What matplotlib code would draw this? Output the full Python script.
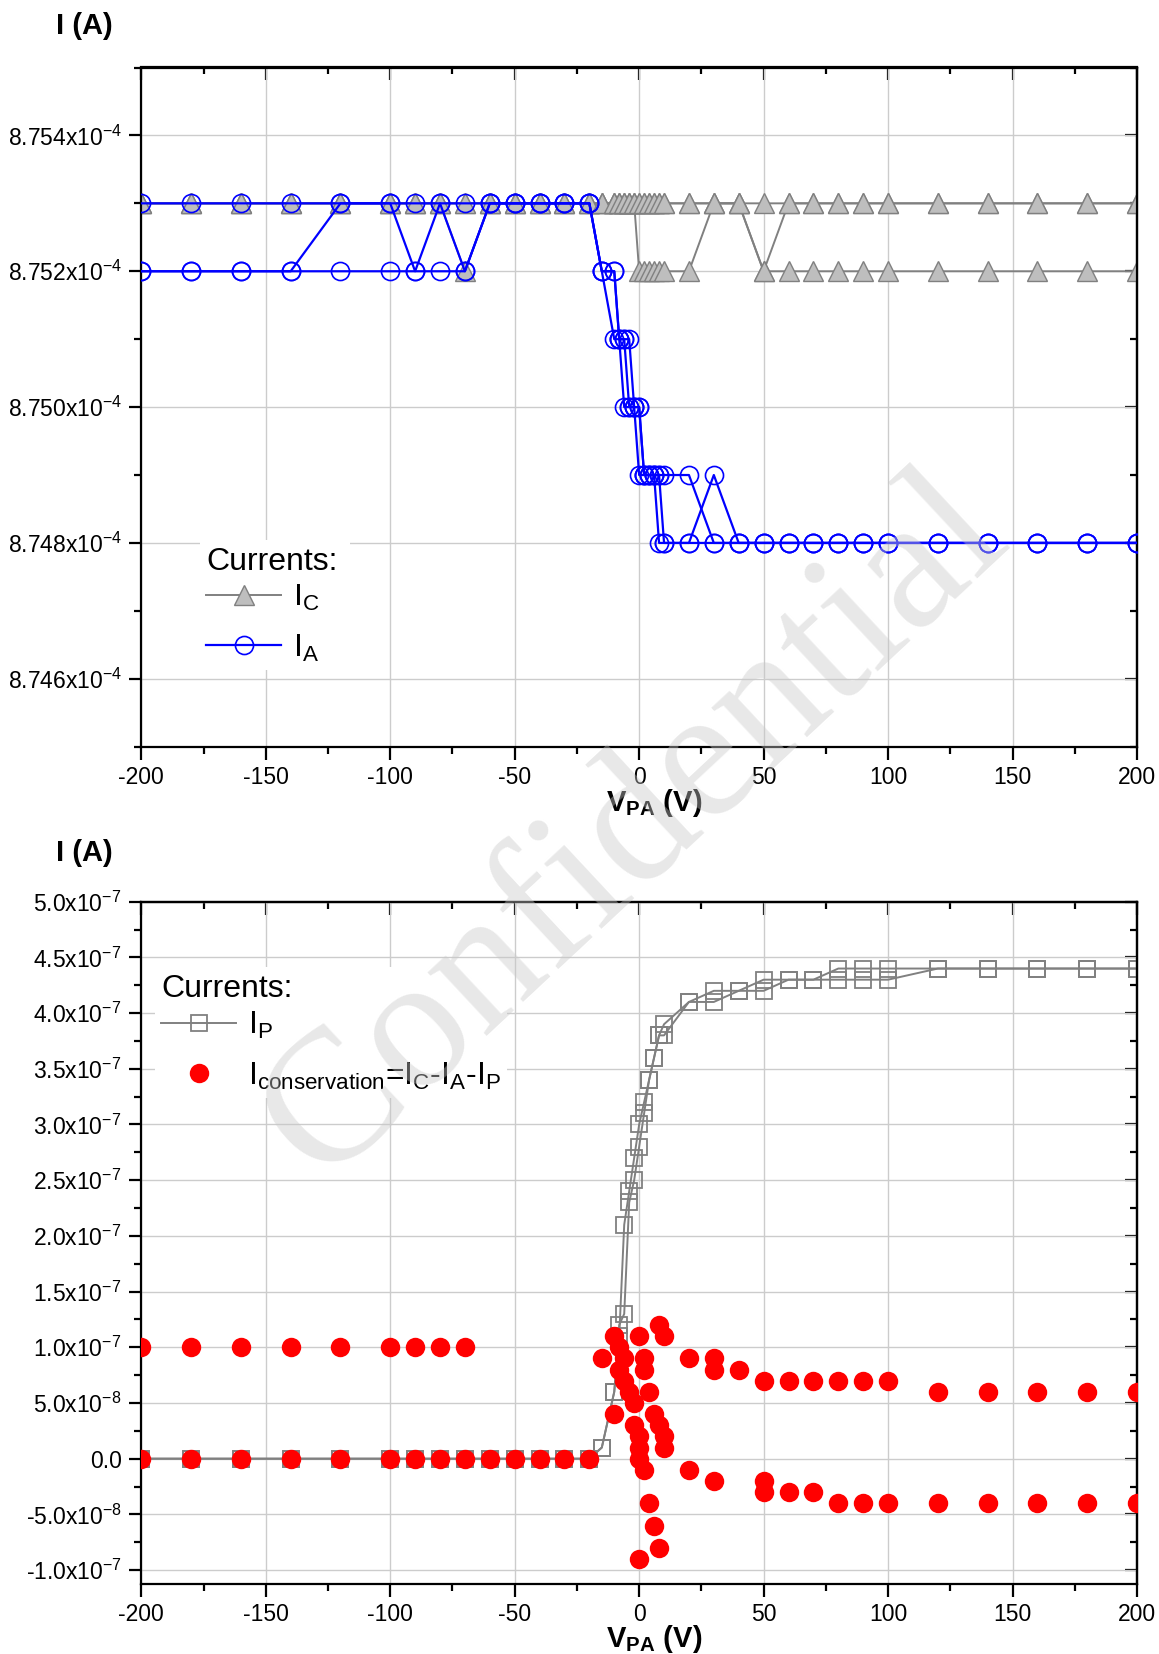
import matplotlib
matplotlib.use('Agg')
import matplotlib.pyplot as plt
from matplotlib.ticker import MultipleLocator, FixedLocator, FixedFormatter
from matplotlib.lines import Line2D

plt.rcParams['font.family'] = ['Liberation Sans', 'DejaVu Sans']
plt.rcParams['mathtext.fontset'] = 'custom'
plt.rcParams['mathtext.rm'] = 'Liberation Sans'
plt.rcParams['mathtext.it'] = 'Liberation Sans:italic'
plt.rcParams['mathtext.bf'] = 'Liberation Sans:bold'
plt.rcParams['axes.unicode_minus'] = False

# ---------------- data ----------------
v_pa = [-200, -180, -160, -140, -120, -100, -90, -80, -70, -60, -50, -40, -30, -20,
        -15, -10, -8, -6, -4, -2, 0, 2, 4, 6, 8, 10, 20, 30, 40, 50, 60, 70, 80, 90,
        100, 120, 140, 160, 180, 200]

# top panel currents, units of 1e-4 A (three sweeps each)
i_c_sweep1 = [8.753, 8.753, 8.753, 8.753, 8.753, 8.753, 8.753, 8.753, 8.752, 8.753,
              8.753, 8.753, 8.753, 8.753, 8.753, 8.753, 8.753, 8.753, 8.753, 8.753,
              8.753, 8.753, 8.753, 8.753, 8.753, 8.753, 8.753, 8.753, 8.753, 8.753,
              8.753, 8.753, 8.753, 8.753, 8.753, 8.753, 8.753, 8.753, 8.753, 8.753]
i_c_sweep2 = [8.753, 8.753, 8.753, 8.753, 8.753, 8.753, 8.753, 8.753, 8.753, 8.753,
              8.753, 8.753, 8.753, 8.753, 8.753, 8.753, 8.753, 8.753, 8.753, 8.753,
              8.752, 8.752, 8.752, 8.752, 8.752, 8.752, 8.752, 8.753, 8.753, 8.752,
              8.752, 8.752, 8.752, 8.752, 8.752, 8.752, 8.752, 8.752, 8.752, 8.752]
i_c_sweep3 = [8.753, 8.753, 8.753, 8.753, 8.753, 8.753, 8.753, 8.753, 8.753, 8.753,
              8.753, 8.753, 8.753, 8.753, 8.753, 8.753, 8.753, 8.753, 8.753, 8.753,
              8.753, 8.753, 8.753, 8.753, 8.753, 8.753, 8.753, 8.753, 8.753, 8.752,
              8.753, 8.753, 8.753, 8.753, 8.753, 8.753, 8.753, 8.753, 8.753, 8.753]

i_a_sweep1 = [8.752, 8.752, 8.752, 8.752, 8.753, 8.753, 8.752, 8.753, 8.752, 8.753,
              8.753, 8.753, 8.753, 8.753, 8.752, 8.751, 8.751, 8.750, 8.750, 8.750,
              8.749, 8.749, 8.749, 8.749, 8.748, 8.748, 8.748, 8.749, 8.748, 8.748,
              8.748, 8.748, 8.748, 8.748, 8.748, 8.748, 8.748, 8.748, 8.748, 8.748]
i_a_sweep2 = [8.752, 8.752, 8.752, 8.752, 8.752, 8.752, 8.752, 8.752, 8.752, 8.753,
              8.753, 8.753, 8.753, 8.753, 8.752, 8.752, 8.751, 8.751, 8.751, 8.750,
              8.750, 8.749, 8.749, 8.749, 8.749, 8.748, 8.748, 8.748, 8.748, 8.748,
              8.748, 8.748, 8.748, 8.748, 8.748, 8.748, 8.748, 8.748, 8.748, 8.748]
i_a_sweep3 = [8.753, 8.753, 8.753, 8.753, 8.753, 8.753, 8.753, 8.753, 8.753, 8.753,
              8.753, 8.753, 8.753, 8.753, 8.752, 8.752, 8.751, 8.751, 8.750, 8.750,
              8.750, 8.749, 8.749, 8.749, 8.749, 8.749, 8.749, 8.748, 8.748, 8.748,
              8.748, 8.748, 8.748, 8.748, 8.748, 8.748, 8.748, 8.748, 8.748, 8.748]

# bottom panel, units of 1e-7 A
i_p_sweep1 = [0, 0, 0, 0, 0, 0, 0, 0, 0, 0, 0, 0, 0, 0,
              0.1, 0.6, 1.2, 1.3, 2.3, 2.5, 2.8, 3.1, 3.4, 3.6, 3.8, 3.9,
              4.1, 4.2, 4.2, 4.3, 4.3, 4.3, 4.4, 4.4, 4.4, 4.4, 4.4, 4.4, 4.4, 4.4]
i_p_sweep2 = [0, 0, 0, 0, 0, 0, 0, 0, 0, 0, 0, 0, 0, 0,
              0.1, 0.6, 1.1, 2.1, 2.4, 2.7, 3.0, 3.2, 3.4, 3.6, 3.8, 3.8,
              4.1, 4.1, 4.2, 4.2, 4.3, 4.3, 4.3, 4.3, 4.3, 4.4, 4.4, 4.4, 4.4, 4.4]

cons_v = [-200, -200, -180, -180, -160, -160, -140, -140, -120, -120, -100, -100,
          -90, -90, -80, -80, -70, -70, -60, -50, -40, -30, -20,
          -15, -10, -10, -8, -8, -6, -6, -4, -2, -2,
          0, 0, 0, 0, 0, 2, 2, 2, 4, 4, 6, 6, 8, 8, 8, 10, 10, 10,
          20, 20, 30, 30, 30, 40, 50, 50, 50, 60, 60, 70, 70, 80, 80, 90, 90,
          100, 100, 120, 120, 140, 140, 160, 160, 180, 180, 200, 200]
cons_i = [1.0, 0.0, 1.0, 0.0, 1.0, 0.0, 1.0, 0.0, 1.0, 0.0, 1.0, 0.0,
          1.0, 0.0, 1.0, 0.0, 1.0, 0.0, 0.0, 0.0, 0.0, 0.0, 0.0,
          0.9, 1.1, 0.4, 1.0, 0.8, 0.9, 0.7, 0.6, 0.5, 0.3,
          1.1, 0.2, 0.1, 0.0, -0.9, 0.9, 0.8, -0.1, 0.6, -0.4, 0.4, -0.6, 1.2, 0.3, -0.8,
          1.1, 0.2, 0.1,
          0.9, -0.1, 0.9, 0.8, -0.2, 0.8, 0.7, -0.2, -0.3, 0.7, -0.3, 0.7, -0.3, 0.7, -0.4,
          0.7, -0.4, 0.7, -0.4, 0.6, -0.4, 0.6, -0.4, 0.6, -0.4, 0.6, -0.4, 0.6, -0.4]

top_ytick_values = [8.746e-4, 8.748e-4, 8.750e-4, 8.752e-4, 8.754e-4]
top_ytick_labels = ['8.746x10$^{-4}$', '8.748x10$^{-4}$', '8.750x10$^{-4}$',
                    '8.752x10$^{-4}$', '8.754x10$^{-4}$']
bot_ytick_values = [-1.0e-7, -0.5e-7, 0.0, 0.5e-7, 1.0e-7, 1.5e-7, 2.0e-7, 2.5e-7,
                    3.0e-7, 3.5e-7, 4.0e-7, 4.5e-7, 5.0e-7]
bot_ytick_labels = ['-1.0x10$^{-7}$', '-5.0x10$^{-8}$', '0.0', '5.0x10$^{-8}$',
                    '1.0x10$^{-7}$', '1.5x10$^{-7}$', '2.0x10$^{-7}$', '2.5x10$^{-7}$',
                    '3.0x10$^{-7}$', '3.5x10$^{-7}$', '4.0x10$^{-7}$', '4.5x10$^{-7}$',
                    '5.0x10$^{-7}$']
xtick_values = [-200, -150, -100, -50, 0, 50, 100, 150, 200]

# ---------------- styles ----------------
GRAY_LINE = '#808080'
TRI_FACE = '#bebebe'
BLUE = '#0000ff'
RED = '#ff0000'
TICK_FS = 16.5
LEG_FS = 23

W, H = 1159, 1654
fig = plt.figure(figsize=(W / 100, H / 100), dpi=100)


def make_axes(left_px, top_px, right_px, bottom_px):
    return fig.add_axes([left_px / W, 1 - bottom_px / H,
                         (right_px - left_px) / W, (bottom_px - top_px) / H])


def fig_xy(px, py):
    return (px / W, 1 - py / H)


def style_axes(ax, y_minor):
    ax.set_axisbelow(True)
    ax.grid(True, which='major', color='#cccccc', lw=1.0)
    for s in ax.spines.values():
        s.set_linewidth(1.6)
        s.set_color('black')
    ax.xaxis.set_major_locator(FixedLocator(xtick_values))
    ax.xaxis.set_minor_locator(MultipleLocator(25))
    ax.yaxis.set_minor_locator(MultipleLocator(y_minor))
    ax.tick_params(which='both', direction='out', top=False, right=False,
                   labelsize=TICK_FS, width=1.6, pad=5)
    ax.tick_params(which='major', length=9)
    ax.tick_params(which='minor', length=5)
    sx = ax.secondary_xaxis('top')
    sx.xaxis.set_major_locator(FixedLocator(xtick_values))
    sx.xaxis.set_minor_locator(MultipleLocator(25))
    sx.tick_params(which='both', direction='in', labeltop=False, width=1.6)
    sx.tick_params(which='major', length=9)
    sx.tick_params(which='minor', length=5)
    sx.spines['top'].set_linewidth(1.6)
    sy = ax.secondary_yaxis('right')
    sy.yaxis.set_major_locator(FixedLocator(list(ax.get_yticks())))
    sy.yaxis.set_minor_locator(MultipleLocator(y_minor))
    sy.tick_params(which='both', direction='in', labelright=False, width=1.6)
    sy.tick_params(which='major', length=9)
    sy.tick_params(which='minor', length=5)
    sy.spines['right'].set_linewidth(1.6)


def add_legend(ax, handles, labels, box_px, title_px, box_w_px):
    leg = ax.legend(handles, labels, loc='upper left',
                    bbox_to_anchor=fig_xy(*box_px), bbox_transform=fig.transFigure,
                    fontsize=LEG_FS, frameon=True, facecolor='white', edgecolor='none',
                    framealpha=1, borderpad=0.2, borderaxespad=0, handlelength=2.35,
                    handletextpad=0.35, labelspacing=0.6, fancybox=False)
    leg.set_zorder(5)
    fig.text(*fig_xy(*title_px), 'Currents:', fontsize=LEG_FS, ha='left',
             va='center', zorder=6)
    # white backing behind the title like the reference legend box
    fig.patches.append(matplotlib.patches.Rectangle(
        fig_xy(box_px[0], title_px[1] + 22), box_w_px / W, 44 / H,
        transform=fig.transFigure, facecolor='white', edgecolor='none', zorder=4))
    return leg


# ---------------- top panel ----------------
ax1 = make_axes(141.3, 67.5, 1137, 746.7)
scale_top = 1e-4
for sweep in (i_c_sweep1, i_c_sweep2, i_c_sweep3):
    ax1.plot(v_pa, [v * scale_top for v in sweep], color=GRAY_LINE, lw=1.4,
             marker='^', ms=15, mfc=TRI_FACE, mec=GRAY_LINE, mew=1.0, zorder=2)
for sweep in (i_a_sweep1, i_a_sweep2, i_a_sweep3):
    ax1.plot(v_pa, [v * scale_top for v in sweep], color=BLUE, lw=1.6,
             marker='o', ms=13, mfc='none', mec=BLUE, mew=1.2, zorder=3)
ax1.set_xlim(-200, 200)
ax1.set_ylim(8.745e-4, 8.755e-4)
ax1.yaxis.set_major_locator(FixedLocator(top_ytick_values))
ax1.yaxis.set_major_formatter(FixedFormatter(top_ytick_labels))
style_axes(ax1, 1e-7)

h_c = Line2D([], [], color=GRAY_LINE, lw=1.4, marker='^', ms=15, mfc=TRI_FACE,
             mec=GRAY_LINE, mew=1.0)
h_a = Line2D([], [], color=BLUE, lw=1.6, marker='o', ms=13, mfc='none', mec=BLUE, mew=1.2)
add_legend(ax1, [h_c, h_a], ['I$_\\mathregular{C}$', 'I$_\\mathregular{A}$'],
           box_px=(200, 576), title_px=(206, 562), box_w_px=150)

fig.text(*fig_xy(84, 34), 'I (A)', fontsize=21, fontweight='bold',
         ha='center', va='baseline')
ax1.text(0.515, -0.095, '$\\mathbf{V_{PA}}$ (V)', transform=ax1.transAxes,
         fontsize=21, fontweight='bold', ha='center', va='baseline')

# ---------------- bottom panel ----------------
ax2 = make_axes(141.3, 901.7, 1137, 1584)
scale_bot = 1e-7
for sweep in (i_p_sweep1, i_p_sweep2):
    ax2.plot(v_pa, [v * scale_bot for v in sweep], color=GRAY_LINE, lw=1.4,
             marker='s', ms=12, mfc='none', mec=GRAY_LINE, mew=1.3, zorder=2)
ax2.plot(cons_v, [v * scale_bot for v in cons_i], ls='none', marker='o', ms=14,
         mfc=RED, mec=RED, mew=0, zorder=3)
ax2.set_xlim(-200, 200)
ax2.set_ylim(-1.125e-7, 5.0e-7)
ax2.yaxis.set_major_locator(FixedLocator(bot_ytick_values))
ax2.yaxis.set_major_formatter(FixedFormatter(bot_ytick_labels))
style_axes(ax2, 0.25e-7)

h_p = Line2D([], [], color=GRAY_LINE, lw=1.4, marker='s', ms=12, mfc='none',
             mec=GRAY_LINE, mew=1.3)
h_cons = Line2D([], [], ls='none', marker='o', ms=14, mfc=RED, mec=RED, mew=0)
add_legend(ax2, [h_p, h_cons],
           ['I$_\\mathregular{P}$',
            'I$_\\mathregular{conservation}$=I$_\\mathregular{C}$-I$_\\mathregular{A}$-I$_\\mathregular{P}$'],
           box_px=(155, 1004), title_px=(161, 989), box_w_px=310)

fig.text(*fig_xy(84, 861), 'I (A)', fontsize=21, fontweight='bold',
         ha='center', va='baseline')
ax2.text(0.515, -0.093, '$\\mathbf{V_{PA}}$ (V)', transform=ax2.transAxes,
         fontsize=21, fontweight='bold', ha='center', va='baseline')

# watermark
fig.text(0.548, 0.4994, 'Confidential', fontsize=136, family='Liberation Serif',
         color='#c8c8c8', alpha=0.42, rotation=43, ha='center', va='center',
         rotation_mode='anchor', zorder=10)

fig.savefig('out.png', dpi=100)
